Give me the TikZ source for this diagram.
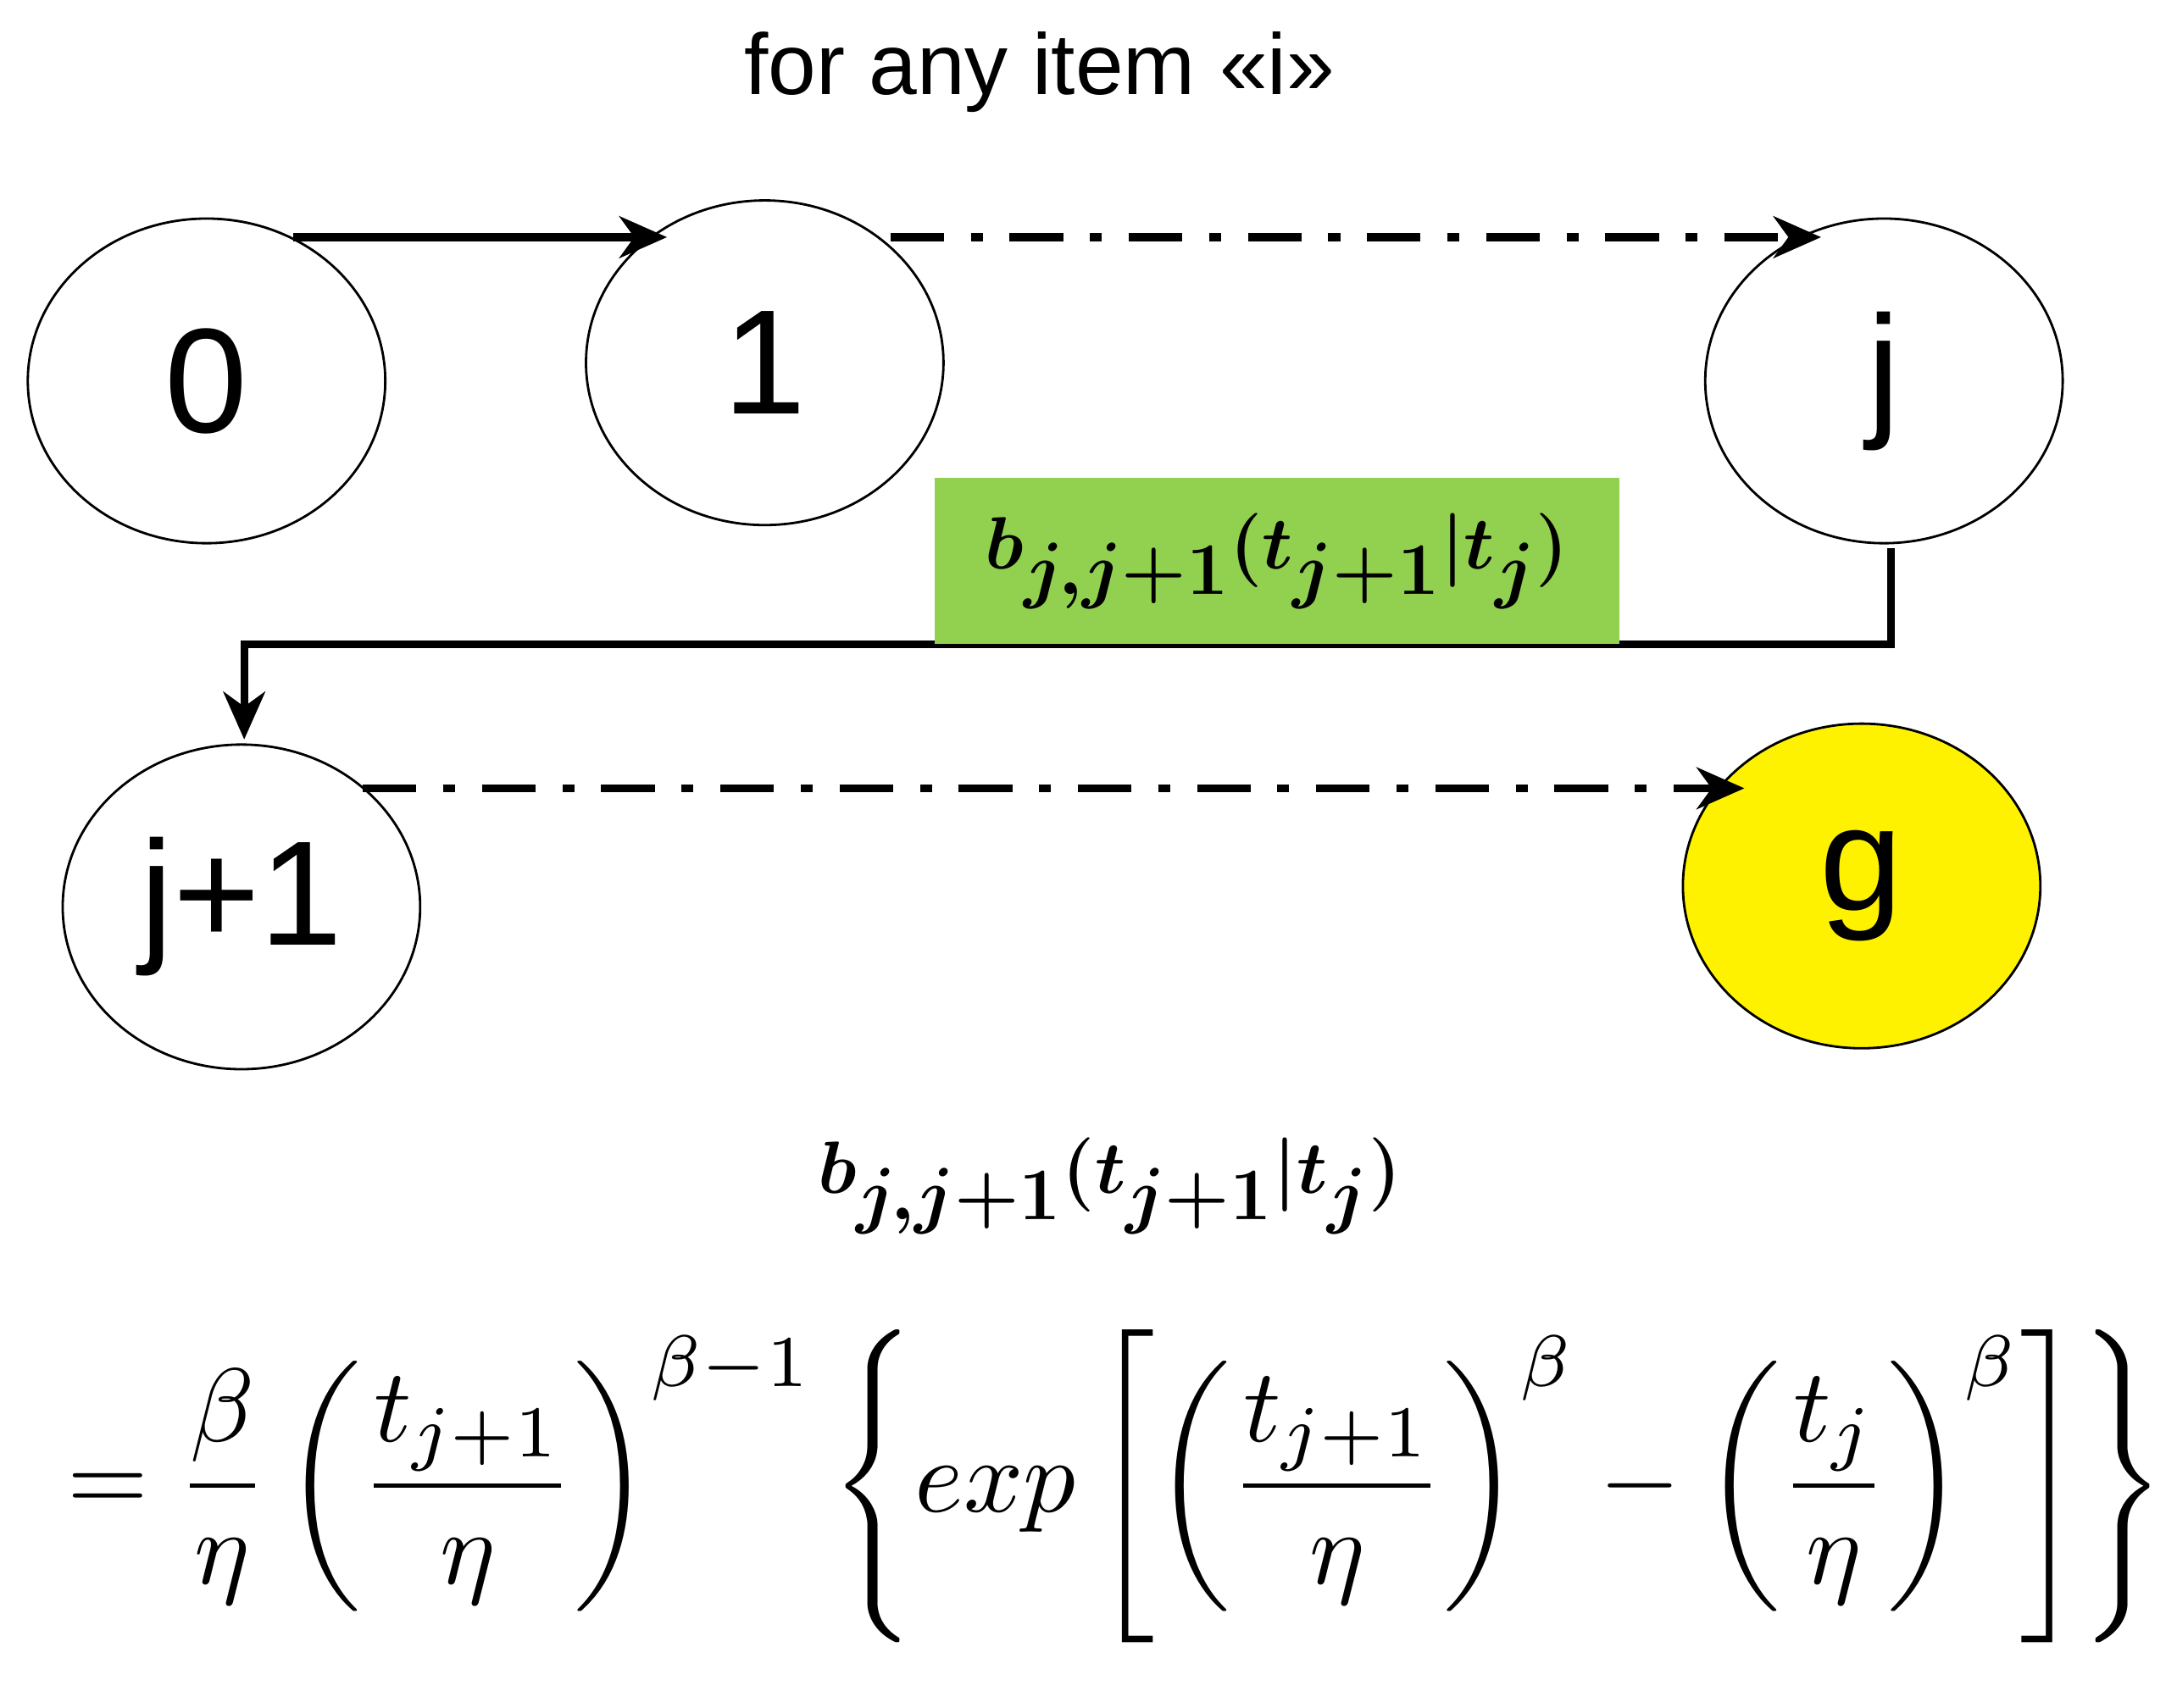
\documentclass[tikz,border=0pt]{standalone}
\usepackage{fontspec}
\usepackage{amsmath,bm}
\setmainfont{Liberation Sans}
\usetikzlibrary{arrows.meta,shapes.geometric}
\begin{document}
\begin{tikzpicture}[x=0.016468cm,y=-0.016468cm,
 st/.style={draw,ellipse,line width=0.8pt,minimum width=120pt,minimum height=109pt,font=\fontsize{50}{50}\selectfont,inner sep=0pt},
 arr/.style={line width=2.6pt,-{Stealth[length=16pt,width=14pt,inset=5pt]}},
 dd/.style={arr,dash pattern=on 18pt off 9pt on 4pt off 9pt}]
\useasboundingbox (0,0) rectangle (1560,1224);
\node[st] (n0) at (148,273) {0};
\node[st] (n1) at (548,260) {1};
\node[st] (nj) at (1350,273) {j};
\node[st] (nj1) at (173,650) {j+1};
\node[st,fill=yellow] (ng) at (1334,635) {g};
\node[font=\fontsize{29}{29}\selectfont] (title) at (745,52) {for any item «i»};
\coordinate (a0) at (210,170); \coordinate (a1) at (478,170);
\draw[arr] (a0) -- (a1);
\coordinate (b0) at (638,170); \coordinate (b1) at (1305,170);
\draw[dd] (b0) -- (b1);
\coordinate (c0) at (1355,393); \coordinate (c1) at (175,530);
\draw[arr] (c0) |- (175,462) -- (c1);
\coordinate (d0) at (260,565); \coordinate (d1) at (1250,565);
\draw[dd] (d0) -- (d1);
\node[fill={rgb,255:red,146;green,208;blue,80},minimum width=230pt,minimum height=56pt,inner sep=0pt] (lab) at (915,402)
 {\fontsize{38}{38}\selectfont$\bm{b_{j,j+1}(t_{j+1}|t_j)}$};
\node (f1) at (795,850) {\fontsize{52}{52}\selectfont$\bm{b_{j,j+1}(t_{j+1}|t_j)}$};
\node (f2) at (800,1065) {\resizebox{704pt}{!}{$\displaystyle =\frac{\beta}{\eta}\left(\frac{t_{j+1}}{\eta}\right)^{\beta-1}\left\{exp\left[\left(\frac{t_{j+1}}{\eta}\right)^{\beta}-\left(\frac{t_j}{\eta}\right)^{\beta}\right]\right\}$}};
\end{tikzpicture}
\end{document}
